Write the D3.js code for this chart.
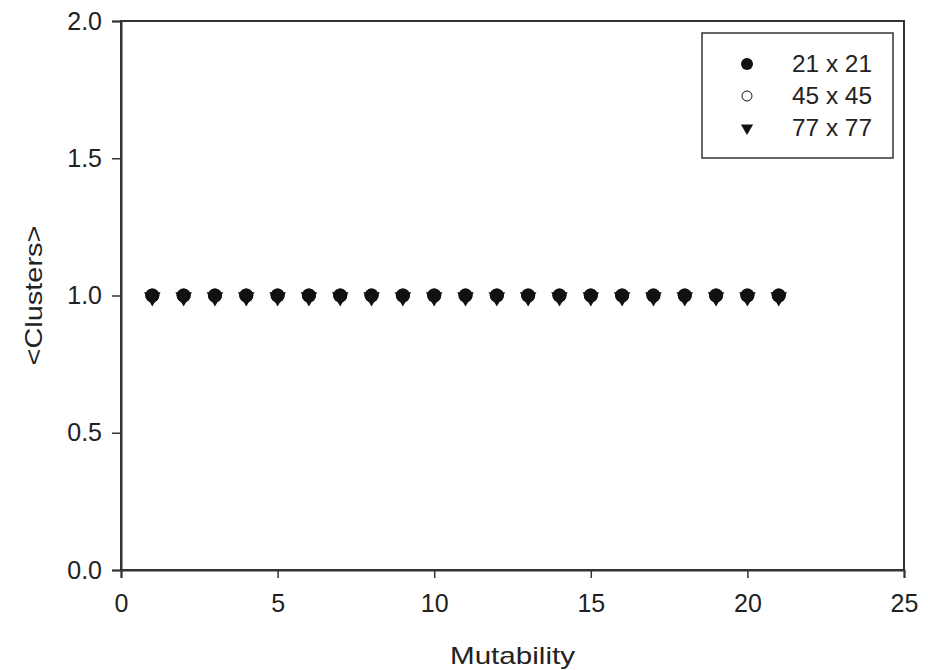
<!DOCTYPE html>
<html>
<head>
<meta charset="utf-8">
<script src="https://cdn.jsdelivr.net/npm/d3@7"></script>
<style>
  body { margin: 0; background: #fff; }
  text { font-family: Arial, "Liberation Sans", sans-serif; fill: #222; }
</style>
</head>
<body>
<div id="chart"></div>
<script>
// Mean cluster count vs mutability, three lattice sizes
const mutability = [1,2,3,4,5,6,7,8,9,10,11,12,13,14,15,16,17,18,19,20,21];
const clusters21 = [1,1,1,1,1,1,1,1,1,1,1,1,1,1,1,1,1,1,1,1,1];
const clusters45 = [1,1,1,1,1,1,1,1,1,1,1,1,1,1,1,1,1,1,1,1,1];
const clusters77 = [1,1,1,1,1,1,1,1,1,1,1,1,1,1,1,1,1,1,1,1,1];
const seriesNames = ['21 x 21', '45 x 45', '77 x 77'];
const xTicks = [0, 5, 10, 15, 20, 25];
const yTicks = [0.0, 0.5, 1.0, 1.5, 2.0];

const W = 928, H = 670;
const margin = { top: 21, right: 24, bottom: 100, left: 121 };
const width = W - margin.left - margin.right;
const height = H - margin.top - margin.bottom;

const svg = d3.select('#chart').append('svg')
    .attr('width', W)
    .attr('height', H);

const g = svg.append('g')
    .attr('transform', `translate(${margin.left},${margin.top})`);

const x = d3.scaleLinear().domain([0, 25]).range([0, width]);
const y = d3.scaleLinear().domain([0, 2]).range([height, 0]);

// frame
g.append('rect')
    .attr('width', width)
    .attr('height', height)
    .attr('fill', 'none')
    .attr('stroke', '#333')
    .attr('stroke-width', 2);

const xAxis = g.append('g')
    .attr('transform', `translate(0,${height})`)
    .call(d3.axisBottom(x).tickValues(xTicks).tickSize(8).tickPadding(16).tickFormat(d3.format('d')));
const yAxis = g.append('g')
    .call(d3.axisLeft(y).tickValues(yTicks).tickSize(9).tickPadding(10).tickFormat(d3.format('.1f')));

[xAxis, yAxis].forEach(ax => {
    ax.attr('font-size', null);
    ax.select('.domain').attr('stroke', '#333').attr('stroke-width', 2);
    ax.selectAll('.tick line').attr('stroke', '#333').attr('stroke-width', 1.5);
    ax.selectAll('.tick text').style('font-size', '25px').attr('fill', '#222');
});

// axis titles
svg.append('text')
    .attr('x', margin.left + width / 2)
    .attr('y', 664)
    .attr('text-anchor', 'middle')
    .attr('textLength', 125)
    .attr('lengthAdjust', 'spacingAndGlyphs')
    .style('font-size', '24px')
    .text('Mutability');

svg.append('text')
    .attr('transform', `translate(42,${margin.top + height / 2}) rotate(-90)`)
    .attr('text-anchor', 'middle')
    .attr('textLength', 140)
    .attr('lengthAdjust', 'spacingAndGlyphs')
    .style('font-size', '24px')
    .text('<Clusters>');

// markers
const tri = d3.symbol().type(d3.symbolTriangle).size(120);

g.selectAll('.s21').data(mutability.map((m, i) => ({ m, v: clusters21[i] })))
    .enter().append('circle')
    .attr('cx', d => x(d.m)).attr('cy', d => y(d.v))
    .attr('r', 7).attr('fill', '#111');

g.selectAll('.s45').data(mutability.map((m, i) => ({ m, v: clusters45[i] })))
    .enter().append('circle')
    .attr('cx', d => x(d.m)).attr('cy', d => y(d.v))
    .attr('r', 6.5).attr('fill', 'none').attr('stroke', '#111').attr('stroke-width', 1);

g.selectAll('.s77').data(mutability.map((m, i) => ({ m, v: clusters77[i] })))
    .enter().append('path')
    .attr('d', tri)
    .attr('transform', d => `translate(${x(d.m)},${y(d.v) + 1.5}) rotate(180)`)
    .attr('fill', '#111');

// legend
const legend = svg.append('g').attr('transform', 'translate(702,33)');
legend.append('rect')
    .attr('width', 191).attr('height', 125)
    .attr('fill', '#fff').attr('stroke', '#333').attr('stroke-width', 1.5);

seriesNames.forEach((name, i) => {
    const row = legend.append('g').attr('transform', `translate(45,${31 + i * 32})`);
    if (i === 0) row.append('circle').attr('r', 6).attr('fill', '#111');
    else if (i === 1) row.append('circle').attr('r', 5).attr('fill', 'none').attr('stroke', '#111');
    else row.append('path').attr('d', d3.symbol().type(d3.symbolTriangle).size(65)).attr('transform', 'rotate(180)').attr('fill', '#111');
    row.append('text')
        .attr('x', 45).attr('y', 8)
        .attr('textLength', 80)
        .attr('lengthAdjust', 'spacingAndGlyphs')
        .style('font-size', '23px')
        .text(name);
});
</script>
</body>
</html>
